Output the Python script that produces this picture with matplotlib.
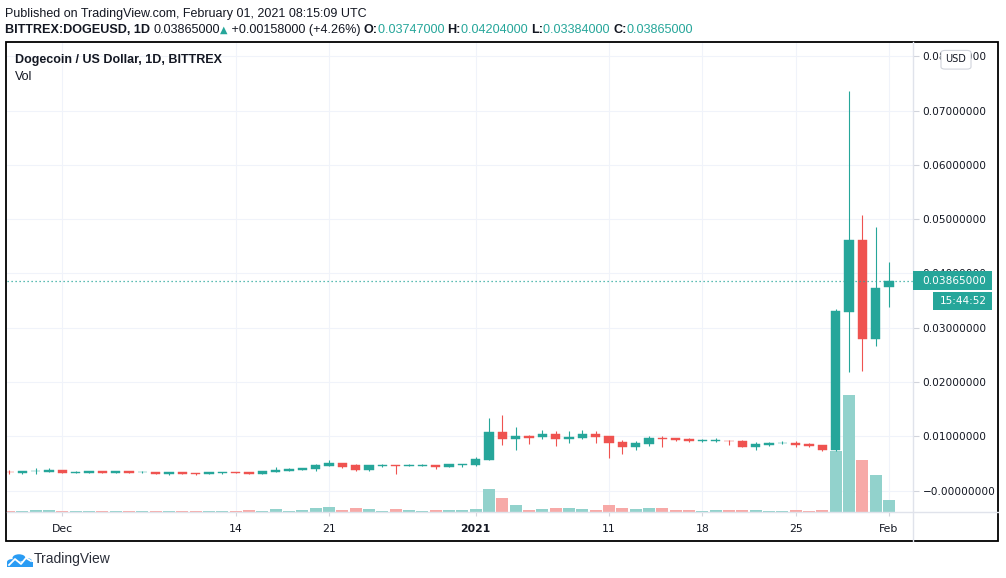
import matplotlib
matplotlib.use('Agg')
import matplotlib.pyplot as plt
import matplotlib.dates as mdates
import matplotlib.transforms as mtransforms
from matplotlib.patches import Rectangle, FancyBboxPatch, Circle
from matplotlib.lines import Line2D
import numpy as np
import pandas as pd

W, H = 1006, 578
UP, DOWN = '#26a69a', '#ef5350'
UP_VOL, DOWN_VOL = '#92d2cc', '#f7a9a7'
TEXT = '#131722'
GRID = '#f0f3fa'
SEP = '#e0e3eb'
HEAD_FONT = ['Liberation Sans', 'DejaVu Sans']
AXIS_FONT = ['DejaVu Sans']

# daily candles, BITTREX:DOGEUSD, 2020-11-27 .. 2021-02-01
dates = pd.date_range('2020-11-27', '2021-02-01', freq='D')
opens = [0.00350, 0.00332, 0.00360, 0.00350, 0.00381, 0.00332, 0.00332, 0.00363, 0.00332, 0.00363,
         0.00340, 0.00344, 0.00313, 0.00344, 0.00325, 0.00313, 0.00332, 0.00340, 0.00340, 0.00308,
         0.00350, 0.00363, 0.00381, 0.00400, 0.00455, 0.00510, 0.00473, 0.00381, 0.00461, 0.00473,
         0.00461, 0.00463, 0.00473, 0.00437, 0.00480, 0.00473, 0.00565, 0.01081, 0.00952, 0.01007,
         0.00989, 0.01044, 0.00952, 0.00971, 0.01044, 0.01007, 0.00897, 0.00811, 0.00860, 0.00971,
         0.00970, 0.00952, 0.00921, 0.00921, 0.00921, 0.00915, 0.00811, 0.00848, 0.00872, 0.00885,
         0.00860, 0.00842, 0.00750, 0.03297, 0.04617, 0.02788, 0.03747]
highs = [0.00375, 0.00365, 0.00412, 0.00412, 0.00385, 0.00363, 0.00365, 0.00365, 0.00365, 0.00365,
         0.00363, 0.00346, 0.00346, 0.00346, 0.00327, 0.00346, 0.00346, 0.00342, 0.00342, 0.00360,
         0.00437, 0.00418, 0.00420, 0.00498, 0.00565, 0.00512, 0.00492, 0.00475, 0.00492, 0.00475,
         0.00492, 0.00492, 0.00475, 0.00494, 0.00498, 0.00620, 0.01339, 0.01394, 0.01173, 0.01026,
         0.01118, 0.01093, 0.01099, 0.01118, 0.01099, 0.01010, 0.00934, 0.00915, 0.01007, 0.01007,
         0.00972, 0.00970, 0.00958, 0.00970, 0.00934, 0.00934, 0.00897, 0.00897, 0.00915, 0.00915,
         0.00878, 0.00844, 0.03346, 0.07361, 0.05083, 0.04862, 0.04204]
lows = [0.00315, 0.00315, 0.00307, 0.00350, 0.00330, 0.00330, 0.00330, 0.00330, 0.00330, 0.00330,
        0.00332, 0.00310, 0.00295, 0.00310, 0.00295, 0.00311, 0.00313, 0.00333, 0.00306, 0.00306,
        0.00348, 0.00361, 0.00379, 0.00369, 0.00453, 0.00418, 0.00369, 0.00369, 0.00443, 0.00308,
        0.00446, 0.00446, 0.00406, 0.00435, 0.00443, 0.00461, 0.00560, 0.00848, 0.00750, 0.00860,
        0.00952, 0.00823, 0.00885, 0.00958, 0.00885, 0.00608, 0.00676, 0.00750, 0.00823, 0.00811,
        0.00909, 0.00891, 0.00891, 0.00903, 0.00848, 0.00809, 0.00756, 0.00823, 0.00860, 0.00811,
        0.00811, 0.00740, 0.00740, 0.02192, 0.02210, 0.02671, 0.03384]
closes = [0.00338, 0.00363, 0.00365, 0.00381, 0.00332, 0.00344, 0.00363, 0.00332, 0.00363, 0.00332,
          0.00346, 0.00313, 0.00344, 0.00313, 0.00313, 0.00344, 0.00344, 0.00335, 0.00308, 0.00357,
          0.00387, 0.00400, 0.00418, 0.00479, 0.00510, 0.00437, 0.00381, 0.00473, 0.00473, 0.00461,
          0.00473, 0.00473, 0.00437, 0.00492, 0.00492, 0.00580, 0.01081, 0.00952, 0.01007, 0.00971,
          0.01044, 0.00952, 0.00989, 0.01044, 0.00989, 0.00879, 0.00811, 0.00879, 0.00971, 0.00958,
          0.00940, 0.00921, 0.00934, 0.00934, 0.00909, 0.00811, 0.00860, 0.00885, 0.00885, 0.00848,
          0.00830, 0.00756, 0.03309, 0.04617, 0.02788, 0.03727, 0.03865]
# volume, millions of DOGE (approximate)
volumes = [13, 13, 23, 23, 13, 13, 13, 13, 13, 13,
           13, 13, 13, 13, 13, 13, 10, 10, 20, 10,
           30, 10, 20, 40, 50, 20, 40, 30, 10, 30,
           20, 10, 20, 20, 20, 30, 230, 140, 70, 20,
           30, 40, 40, 30, 20, 70, 40, 30, 40, 40,
           20, 20, 10, 20, 20, 20, 20, 10, 10, 20,
           10, 20, 610, 1170, 520, 370, 120]

tick_dates = ['2020-12-01', '2020-12-14', '2020-12-21', '2021-01-01',
              '2021-01-11', '2021-01-18', '2021-01-25', '2021-02-01']
tick_labels = ['Dec', '14', '21', '2021', '11', '18', '25', 'Feb']
price_ticks = np.arange(0, 0.0801, 0.01)

# pixel layout of the TradingView snapshot
LEFT, RIGHT, TOP, BOTTOM = 7, 913, 42, 512
FRAME_R, FRAME_B = 998, 541


def fx(px):
    return px / W


def fy(py):
    return 1 - py / H


fig = plt.figure(figsize=(W / 100, H / 100), dpi=100)
fig.patch.set_facecolor('white')
ax = fig.add_axes([fx(LEFT), fy(BOTTOM), fx(RIGHT) - fx(LEFT), fy(TOP) - fy(BOTTOM)])
ax.set_facecolor('white')

x = mdates.date2num(dates)
o, h, l, c = map(np.asarray, (opens, highs, lows, closes))
up = c >= o
colors = np.where(up, UP, DOWN)
vcolors = np.where(up, UP_VOL, DOWN_VOL)

# grid
for t in price_ticks:
    ax.axhline(t, color=GRID, lw=0.8, zorder=0)
xt = mdates.date2num(pd.to_datetime(tick_dates))
for t in xt:
    ax.axvline(t, color=GRID, lw=0.8, zorder=0)

# volume overlay at the bottom of the pane
vol_trans = mtransforms.blended_transform_factory(ax.transData, ax.transAxes)
vol_scale = max(volumes) * 470 / 117
ax.bar(x, np.asarray(volumes) / vol_scale, width=0.9, color=vcolors,
       transform=vol_trans, zorder=1, linewidth=0)

# candles
ax.vlines(x, l, h, colors=colors, lw=0.8, zorder=2)
body_lo = np.minimum(o, c)
body_h = np.maximum(np.abs(c - o), 0.00008)
ax.bar(x, body_h, bottom=body_lo, width=0.7, color=colors, edgecolor=colors,
       linewidth=0.3, zorder=3)

# last price dotted line
ax.axhline(c[-1], color=UP, lw=0.9, ls=(0, (1, 2.2)), zorder=4)

ax.set_xlim(x[4] - 4.15, x[4] + 63.8)
ax.set_ylim(-0.003923, 0.08263)

ax.yaxis.tick_right()
ax.set_yticks(price_ticks)
ax.set_yticklabels(['\u22120.00000000' if t == 0 else f'{t:.8f}' for t in price_ticks],
                   family=AXIS_FONT)
ax.tick_params(axis='y', length=4, width=0.8, color='#d1d4dc', labelsize=7.6,
               labelcolor=TEXT, pad=3)
ax.set_xticks(xt)
ax.set_xticklabels(tick_labels, family=AXIS_FONT)
ax.tick_params(axis='x', length=3, width=0.8, color='#d1d4dc', labelsize=7.8,
               labelcolor=TEXT, pad=6)
for lab in ax.get_xticklabels():
    if lab.get_text() == '2021':
        lab.set_fontweight('bold')
for sp in ax.spines.values():
    sp.set_visible(False)

# separators and frame
fig.add_artist(Line2D([fx(RIGHT), fx(RIGHT)], [fy(TOP), fy(FRAME_B)], color=SEP, lw=1))
fig.add_artist(Line2D([fx(LEFT), fx(FRAME_R)], [fy(BOTTOM), fy(BOTTOM)], color=SEP, lw=1))
fig.add_artist(Rectangle((fx(6), fy(FRAME_B)), fx(FRAME_R) - fx(6), fy(TOP) - fy(FRAME_B),
                         fill=False, ec='black', lw=1.3))

# last price + countdown labels on the price scale
fig.canvas.draw()
yl = ax.transData.transform((x[-1], c[-1]))[1] / H
fig.add_artist(Rectangle((fx(913), yl - 9.5 / H), fx(992) - fx(913), 19 / H,
                         fc=UP, ec='none', zorder=5))
fig.text(fx(922), yl, f'{c[-1]:.8f}', color='white', fontsize=7.6, family=AXIS_FONT,
         va='center', ha='left', zorder=6)
fig.add_artist(Rectangle((fx(933), yl - 29.5 / H), fx(992) - fx(933), 18 / H,
                         fc=UP, ec='none', zorder=5))
fig.text(fx(940), yl - 20.5 / H, '15:44:52', color='white', fontsize=7.6, family=AXIS_FONT,
         va='center', ha='left', zorder=6)

# USD badge
fig.add_artist(FancyBboxPatch((fx(942), fy(68.5)), fx(970) - fx(942), 17.5 / H,
                              boxstyle='round,pad=0.001,rounding_size=0.004',
                              fc='white', ec='#d1d4dc', lw=0.8, zorder=5))
fig.text(fx(956), fy(59.5), 'USD', fontsize=7, family=AXIS_FONT, color=TEXT,
         ha='center', va='center', zorder=6)

# header lines
fig.text(fx(5), fy(13.5), 'Published on TradingView.com, February 01, 2021 08:15:09 UTC',
         fontsize=9.0, family=HEAD_FONT, color=TEXT, va='center')

renderer = fig.canvas.get_renderer()
segments = [
    ('BITTREX:DOGEUSD, 1D ', TEXT, 'bold'),
    ('0.03865000', TEXT, 'normal'),
    ('\u25b2', UP, 'normal'),
    (' +0.00158000 (+4.26%) ', TEXT, 'normal'),
    ('O:', TEXT, 'bold'), ('0.03747000 ', UP, 'normal'),
    ('H:', TEXT, 'bold'), ('0.04204000 ', UP, 'normal'),
    ('L:', TEXT, 'bold'), ('0.03384000 ', UP, 'normal'),
    ('C:', TEXT, 'bold'), ('0.03865000', UP, 'normal'),
]
cur = 5
for txt, col, wt in segments:
    fam = ['DejaVu Sans'] if txt == '\u25b2' else HEAD_FONT
    size = 7 if txt == '\u25b2' else 9.05
    t = fig.text(fx(cur), fy(30), txt, fontsize=size, family=fam, color=col,
                 fontweight=wt, va='center')
    cur += t.get_window_extent(renderer).width

fig.text(fx(15), fy(60), 'Dogecoin / US Dollar, 1D, BITTREX', fontsize=9.0,
         family=HEAD_FONT, fontweight='bold', color=TEXT, va='center')
fig.text(fx(15), fy(77), 'Vol', fontsize=9.0, family=HEAD_FONT, color=TEXT, va='center')

# TradingView logo
for cx, cy, r in [(12, 562, 5), (19, 558, 6.5), (27, 561, 5), (30, 563.5, 3)]:
    fig.add_artist(Circle((fx(cx), fy(cy)), r / W, fc='#2a9cf4', ec='none',
                          transform=fig.transFigure))
fig.add_artist(Rectangle((fx(7), fy(566.5)), fx(33) - fx(7), 5 / H, fc='#2a9cf4', ec='none'))
fig.add_artist(Line2D([fx(9), fx(15), fx(21), fx(26), fx(31)],
                      [fy(565), fy(559), fy(564), fy(558), fy(561)],
                      color='white', lw=1.3))
fig.text(fx(34), fy(559.5), 'TradingView', fontsize=10, family=HEAD_FONT, color='#2a2e39',
         va='center')

fig.savefig('out.png', dpi=100)
